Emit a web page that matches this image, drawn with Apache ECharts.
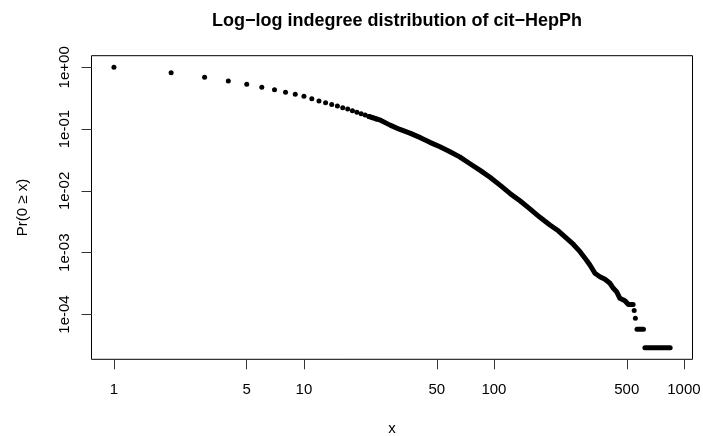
<!DOCTYPE html>
<html>
<head>
<meta charset="utf-8">
<script src="https://cdn.jsdelivr.net/npm/echarts@6/dist/echarts.min.js"></script>
<style>
html,body{margin:0;padding:0;background:#fff;}
#c{width:703px;height:436px;}
</style>
</head>
<body>
<div id="c"></div>
<script>
// ---- Data ----
const xTickValues = [1, 5, 10, 50, 100, 500, 1000];
const xTickLabels = ['1', '5', '10', '50', '100', '500', '1000'];
const yTickValues = [1, 0.1, 0.01, 0.001, 0.0001];
const yTickLabels = ['1e+00', '1e-01', '1e-02', '1e-03', '1e-04'];

// separate dots at small degrees
const dotX = [1, 2, 3, 4, 5, 6, 7, 8, 9, 10, 11, 12, 13, 14, 15, 16, 17, 18, 19, 20, 21, 22, 23, 24];
const dotY = [1, 0.818, 0.692, 0.600, 0.533, 0.475, 0.435, 0.394, 0.366, 0.339, 0.310, 0.286,
              0.268, 0.251, 0.237, 0.222, 0.211, 0.199, 0.187, 0.178, 0.169, 0.160, 0.153, 0.146];

// dense part (dots merge into a thick curve)
const curveX = [22, 25, 28.4, 32, 36.1, 41, 46, 52, 58.7, 66, 74.8, 85, 95.3, 108, 121.4, 137, 154.6,
                174.6, 197, 218, 241.5, 262, 283.8, 300, 320, 340, 361, 384, 408, 425, 442,
                460, 489, 510, 540];
const curveY = [0.160, 0.1413, 0.1161, 0.0988, 0.0861, 0.0728, 0.0611, 0.0517, 0.0431, 0.0355,
                0.0275, 0.0213, 0.0166, 0.0123, 0.00912, 0.00692, 0.00513,
                0.00374, 0.00281, 0.00226, 0.00171, 0.00136, 0.00104, 0.000832,
                0.000631, 0.000465, 0.000409, 0.000372, 0.000320, 0.000265, 0.000234, 0.000183,
                0.000167, 0.000145, 0.000145];

// isolated tail dots
const tailDotX = [547, 555];
const tailDotY = [0.000116, 0.0000868];

// flat tail runs
const runStartX = [566, 623];
const runEndX = [612, 846];
const runY = [0.0000579, 0.0000290];

// ---- Chart ----
const FONT = 'Liberation Sans, Arial, Helvetica, sans-serif';
const chart = echarts.init(document.getElementById('c'), null, {renderer: 'canvas'});

function lookup(vals, labels, v) {
  let best = 0, bd = Infinity;
  for (let i = 0; i < vals.length; i++) {
    const d = Math.abs(Math.log10(vals[i]) - Math.log10(v));
    if (d < bd) { bd = d; best = i; }
  }
  return labels[best];
}

const series = [];
series.push({
  type: 'scatter',
  data: dotX.map((x, i) => [x, dotY[i]]),
  symbol: 'circle', symbolSize: 5,
  itemStyle: {color: '#000', opacity: 1},
  silent: true
});
series.push({
  type: 'line',
  data: curveX.map((x, i) => [x, curveY[i]]),
  showSymbol: false,
  lineStyle: {color: '#000', width: 5, cap: 'round', join: 'round', opacity: 1},
  silent: true
});
series.push({
  type: 'scatter',
  data: tailDotX.map((x, i) => [x, tailDotY[i]]),
  symbol: 'circle', symbolSize: 5,
  itemStyle: {color: '#000', opacity: 1},
  silent: true
});
runStartX.forEach((x0, i) => {
  series.push({
    type: 'line',
    data: [[x0, runY[i]], [runEndX[i], runY[i]]],
    showSymbol: false,
    lineStyle: {color: '#000', width: 5, cap: 'round', opacity: 1},
    silent: true
  });
});

chart.setOption({
  animation: false,
  backgroundColor: '#fff',
  textStyle: {fontFamily: FONT},
  title: {
    text: 'Log\u2212log indegree distribution of cit\u2212HepPh',
    left: 392, top: 7, textAlign: 'center',
    textStyle: {fontFamily: FONT, fontSize: 18, fontWeight: 'bold', color: '#000'}
  },
  grid: {
    left: 91.5, top: 55.7, width: 601, height: 303.6,
    outerBoundsMode: 'none', containLabel: false,
    show: true, borderColor: '#000', borderWidth: 1, backgroundColor: 'transparent'
  },
  xAxis: {
    type: 'log', logBase: 10,
    min: 0.762, max: 1109,
    name: 'x', nameLocation: 'middle', nameGap: 62,
    nameTextStyle: {fontFamily: FONT, fontSize: 15, color: '#000'},
    axisLine: {show: false},
    splitLine: {show: false},
    minorTick: {show: false},
    axisTick: {show: true, inside: false, length: 10, customValues: xTickValues,
               lineStyle: {color: '#333', width: 1}},
    axisLabel: {show: true, margin: 23, customValues: xTickValues,
                fontFamily: FONT, fontSize: 15, color: '#000',
                formatter: v => lookup(xTickValues, xTickLabels, v)}
  },
  yAxis: {
    type: 'log', logBase: 10,
    min: 1.884e-5, max: 1.542,
    name: 'Pr(0 \u2265 x)', nameLocation: 'middle', nameGap: 61, nameRotate: 90,
    nameTextStyle: {fontFamily: FONT, fontSize: 15, color: '#000'},
    axisLine: {show: false},
    splitLine: {show: false},
    minorTick: {show: false},
    axisTick: {show: true, inside: false, length: 10, customValues: yTickValues,
               lineStyle: {color: '#333', width: 1}},
    axisLabel: {show: true, margin: 19, rotate: 90, customValues: yTickValues,
                fontFamily: FONT, fontSize: 15, color: '#000',
                formatter: v => lookup(yTickValues, yTickLabels, v)}
  },
  series: series
});
</script>
</body>
</html>
